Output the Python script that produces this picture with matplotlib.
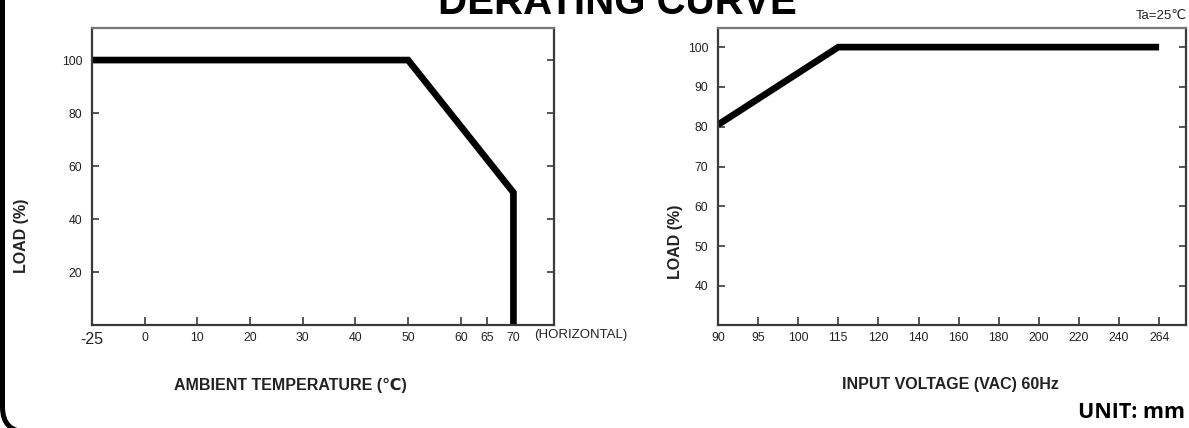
import numpy as np
import matplotlib
matplotlib.use("Agg")
import matplotlib.pyplot as plt
from matplotlib import font_manager
from matplotlib.patches import FancyBboxPatch
from matplotlib.transforms import IdentityTransform

# ---------------- data ----------------
temp_ticks = [-25, 0, 10, 20, 30, 40, 50, 60, 65, 70]
temp_curve = [-25, 50, 70, 70]
temp_load = [100, 100, 50, 0]
load_ticks_left = [20, 40, 60, 80, 100]

volt_ticks = [90, 95, 100, 115, 120, 140, 160, 180, 200, 220, 240, 264]
volt_curve = [90, 115, 264]
volt_load = [80.5, 100, 100]
load_ticks_right = [40, 50, 60, 70, 80, 90, 100]

title = "DERATING CURVE"
# --------------------------------------

names = {f.name for f in font_manager.fontManager.ttflist}
narrow = "Liberation Sans Narrow" if "Liberation Sans Narrow" in names else "Liberation Sans"
FAM = [narrow, "DejaVu Sans"]
plt.rcParams["font.family"] = FAM

W, H = 1189, 428
fig = plt.figure(figsize=(W / 100, H / 100), dpi=100)

def px_axes(x0, y0, x1, y1):
    return fig.add_axes([x0 / W, 1 - y1 / H, (x1 - x0) / W, (y1 - y0) / H])

spine_c = "#3a3a3a"
txt_c = "#222222"
TICK_FS = 8.8

def style(ax):
    for s in ax.spines.values():
        s.set_color(spine_c)
        s.set_linewidth(1.6)
    ax.spines["top"].set_color("#777777")
    ax.tick_params(axis="both", direction="in", length=5, width=1.2,
                   color=spine_c, labelcolor=txt_c, labelsize=TICK_FS)
    ax.tick_params(axis="y", right=True, left=True, pad=7)
    ax.tick_params(axis="x", length=6, pad=5)

# -------- left panel: temperature derating --------
axL = px_axes(92, 28, 554, 325)
fwd = lambda x: np.where(np.asarray(x) < 0, np.asarray(x) * 0.4, np.asarray(x))
inv = lambda y: np.where(np.asarray(y) < 0, np.asarray(y) / 0.4, np.asarray(y))
axL.set_xscale("function", functions=(fwd, inv))
axL.plot(temp_curve, temp_load, color="black", lw=4.8,
         solid_capstyle="butt", solid_joinstyle="miter")
axL.set_xlim(-25, 77.7)
axL.set_ylim(0, 112.1)
axL.set_yticks(load_ticks_left)
axL.set_xticks(temp_ticks)
axL.set_xticklabels([str(t) for t in temp_ticks])
axL.xaxis.set_minor_locator(matplotlib.ticker.NullLocator())
style(axL)
axL.get_xticklabels()[0].set_fontsize(11.5)
axL.text(1.058, -0.035, "(HORIZONTAL)", transform=axL.transAxes,
         ha="center", va="center", fontsize=9.5, color=txt_c)

# -------- right panel: input voltage derating --------
axR = px_axes(718, 28, 1186, 325)
vt = np.array(volt_ticks, float)
idx = np.arange(len(vt), dtype=float)

def pl(x, xs, ys):
    x = np.asarray(x, float)
    y = np.interp(x, xs, ys)
    lo = x < xs[0]
    hi = x > xs[-1]
    y = np.where(lo, ys[0] + (x - xs[0]) * (ys[1] - ys[0]) / (xs[1] - xs[0]), y)
    y = np.where(hi, ys[-1] + (x - xs[-1]) * (ys[-1] - ys[-2]) / (xs[-1] - xs[-2]), y)
    return y

axR.set_xscale("function", functions=(lambda x: pl(x, vt, idx), lambda y: pl(y, idx, vt)))
axR.plot(volt_curve, volt_load, color="black", lw=4.8,
         solid_capstyle="butt", solid_joinstyle="miter")
axR.set_xlim(90, 264 + 0.67 * 24)
axR.set_ylim(30.2, 104.8)
axR.set_yticks(load_ticks_right)
axR.set_xticks(volt_ticks)
axR.set_xticklabels([str(v) for v in volt_ticks])
axR.xaxis.set_minor_locator(matplotlib.ticker.NullLocator())
style(axR)

# -------- labels --------
lab = dict(fontsize=11.5, fontweight="bold", color=txt_c, family=FAM)
fig.text(22 / W, 1 - 236 / H, "LOAD (%)", rotation=90, ha="center", va="center", **lab)
fig.text(675 / W, 1 - 242 / H, "LOAD (%)", rotation=90, ha="center", va="center", **lab)
fig.text(290 / W, 1 - 385 / H, "AMBIENT TEMPERATURE (℃)", ha="center", va="center", **lab)
fig.text(950 / W, 1 - 385 / H, "INPUT VOLTAGE (VAC) 60Hz", ha="center", va="center", **lab)

fig.text(1187 / W, 1 - 19 / H, "Ta=25℃", ha="right", va="baseline",
         fontsize=9.5, color=txt_c, family=FAM)

fig.text(617 / W, 1 - 14 / H, title, ha="center", va="baseline",
         fontsize=29, fontweight="bold", color="black",
         family=["Liberation Sans", "DejaVu Sans"])

fig.text(1078 / W, 1 - 418 / H, "UNIT: mm", ha="left", va="baseline",
         fontsize=15.5, fontweight="bold", color="black",
         family=["Open Sans", "DejaVu Sans"])

# outer rounded frame (only its left part is visible)
frame = FancyBboxPatch((2.5, -4), 3000, 600, boxstyle="round,pad=0,rounding_size=25",
                       transform=IdentityTransform(), fill=False,
                       edgecolor="black", linewidth=3.6, clip_on=False)
fig.patches.append(frame)

fig.savefig("out.png", dpi=100)
